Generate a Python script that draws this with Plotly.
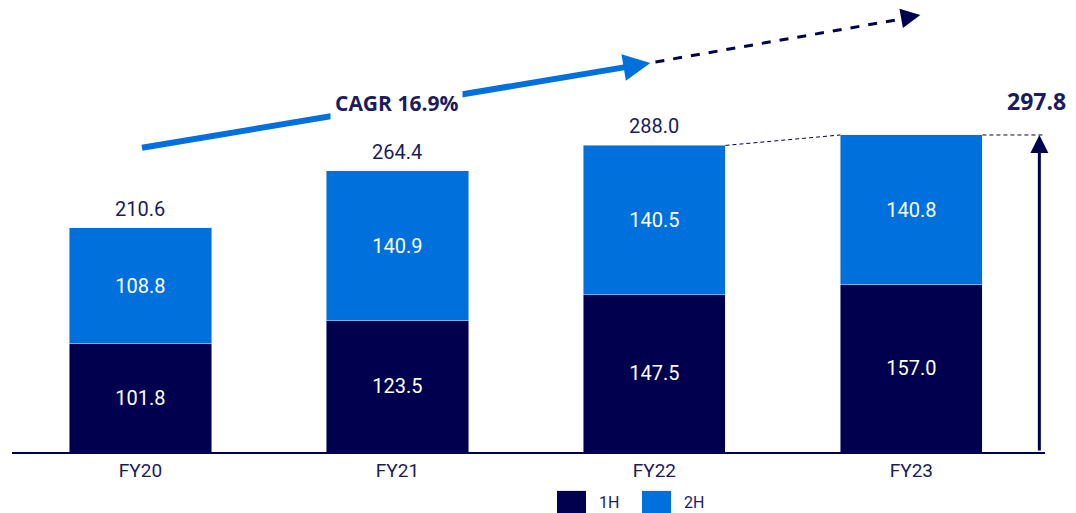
import plotly.graph_objects as go

# chart data
years = ['FY20', 'FY21', 'FY22', 'FY23']
h1 = [101.8, 123.5, 147.5, 157.0]
h2 = [108.8, 140.9, 140.5, 140.8]
totals = [210.6, 264.4, 288.0, 297.8]
cagr_label = 'CAGR 16.9%'

NAVY = '#00004f'
BLUE = '#0070dc'
TEXT = '#1b1b5e'
FONT = 'Roboto'
bar_w = 0.553

fig = go.Figure()
fig.add_trace(go.Bar(
    x=years, y=h1, name='1H', marker_color=NAVY, width=bar_w,
    text=[f'{v:.1f}' for v in h1], textposition='inside',
    insidetextanchor='middle', textangle=0, constraintext='none',
    textfont=dict(color='white', size=20, family=FONT)
))
fig.add_trace(go.Bar(
    x=years, y=h2, name='2H', marker_color=BLUE, width=bar_w,
    text=[f'{v:.1f}' for v in h2], textposition='inside',
    insidetextanchor='middle', textangle=0, constraintext='none',
    textfont=dict(color='white', size=20, family=FONT)
))

annotations = []
# totals above the first three bars
for i in range(3):
    annotations.append(dict(
        x=i, y=totals[i], xref='x', yref='y', text=f'{totals[i]:.1f}',
        showarrow=False, yanchor='bottom', yshift=5,
        font=dict(size=20, color=TEXT, family=FONT)
    ))

# growth arrow at the right of FY23
arrow_x = 3.498
annotations.append(dict(
    x=arrow_x, y=totals[3], xref='x', yref='y',
    ax=arrow_x, ay=0, axref='x', ayref='y',
    showarrow=True, arrowhead=2, arrowsize=1.2, arrowwidth=3,
    arrowcolor=NAVY, text=''
))
annotations.append(dict(
    x=3.486, y=totals[3], xref='x', yref='y', text=f'<b>{totals[3]:.1f}</b>',
    showarrow=False, yanchor='bottom', yshift=16,
    font=dict(size=23, color=TEXT, family='Open Sans')
))

# CAGR arrow (solid blue)
annotations.append(dict(
    x=1.984, y=365.4, xref='x', yref='y',
    ax=0.0, ay=285.6, axref='x', ayref='y',
    showarrow=True, arrowhead=2, arrowsize=0.9, arrowwidth=6,
    arrowcolor=BLUE, text=''
))
# dashed continuation arrowhead
annotations.append(dict(
    x=3.035, y=410.5, xref='x', yref='y',
    ax=-20, ay=3.6, showarrow=True, arrowhead=2, arrowsize=1.3,
    arrowwidth=3, arrowcolor=NAVY, text=''
))
annotations.append(dict(
    x=0.996, y=327.5, xref='x', yref='y', text=f'<b>{cagr_label}</b>',
    showarrow=False, bgcolor='white', borderpad=4,
    font=dict(size=21, color=TEXT, family='Open Sans')
))

# custom legend
legend_items = [('1H', NAVY, 557), ('2H', BLUE, 642)]
shapes = []
for name, color, px in legend_items:
    x0 = (px - 12) / 1033
    x1 = (px + 29 - 12) / 1033
    shapes.append(dict(type='rect', xref='paper', yref='paper',
                       x0=x0, x1=x1, y0=-0.14, y1=-0.088,
                       fillcolor=color, line=dict(width=0)))
    annotations.append(dict(
        x=(px + 40 - 12) / 1033, y=-0.115, xref='paper', yref='paper',
        text=name, showarrow=False, xanchor='left', yanchor='middle',
        font=dict(size=16, color=TEXT, family=FONT)
    ))

# dashed connectors
shapes.append(dict(type='line', xref='x', yref='y',
                   x0=2 + bar_w / 2, y0=totals[2], x1=3 - bar_w / 2, y1=totals[3],
                   line=dict(color=NAVY, width=1, dash='4px,3px')))
shapes.append(dict(type='line', xref='x', yref='y',
                   x0=3 + bar_w / 2, y0=totals[3], x1=3.52, y1=totals[3],
                   line=dict(color=NAVY, width=1, dash='4px,3px')))
# dashed continuation line
shapes.append(dict(type='line', xref='x', yref='y',
                   x0=2.004, y0=366.4, x1=2.98, y1=407.5,
                   line=dict(color=NAVY, width=3, dash='dash')))

fig.update_layout(
    barmode='stack',
    width=1076, height=513,
    margin=dict(l=12, r=31, t=10, b=61),
    plot_bgcolor='white', paper_bgcolor='white',
    showlegend=False,
    xaxis=dict(
        range=[-0.5, 3.52], showgrid=False, showline=True,
        linecolor=NAVY, linewidth=2, ticks='',
        tickfont=dict(size=19, color=TEXT, family=FONT)
    ),
    yaxis=dict(range=[0, 415.2], visible=False),
    annotations=annotations,
    shapes=shapes,
)

fig.write_html('out.html', config={'displayModeBar': False},
               post_script="document.body.style.margin='0';document.body.style.overflow='hidden';")
